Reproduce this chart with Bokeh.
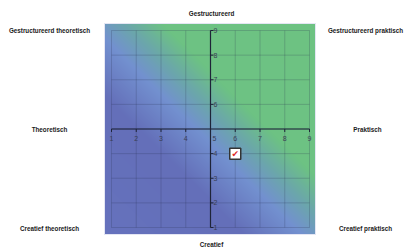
import numpy as np
from bokeh.plotting import figure
from bokeh.models import Range1d, Label
from bokeh.embed import file_html
from bokeh.resources import INLINE
from bokeh.core.properties import value

# ---- data ----
ticks = [1, 2, 3, 4, 5, 6, 7, 8, 9]
x_tick_labels = ["1", "2", "3", "4", "5", "6", "7", "8", "9"]
y_ticks = [1, 2, 3, 4, 6, 7, 8, 9]
y_tick_labels = ["1", "2", "3", "4", "6", "7", "8", "9"]
axis_center = 5
point_x = [6]
point_y = [4]
top_label = "Gestructureerd"
bottom_label = "Creatief"
left_label = "Theoretisch"
right_label = "Praktisch"
corner_labels = ["Gestructureerd theoretisch", "Gestructureerd praktisch",
                 "Creatief theoretisch", "Creatief praktisch"]

# gradient stops along x+y
grad_s = [0.0, 7.0, 9.4, 10.9, 12.3, 19.0]
grad_rgb = [(0x66, 0x73, 0xbe), (0x64, 0x6f, 0xb9), (0x73, 0x91, 0xd0),
            (0x6b, 0xa8, 0xa9), (0x6d, 0xc2, 0x84), (0x6e, 0xc3, 0x82)]

W, H = 404, 250
x0r = 1 - 111 / 24.75
x1r = x0r + W / 24.75
y0r = 1 - (H - 227) / 24.625
y1r = y0r + H / 24.625

p = figure(width=W, height=H, output_backend="svg", toolbar_location=None,
           title=None, x_range=Range1d(x0r, x1r), y_range=Range1d(y0r, y1r),
           min_border=0, x_axis_location=None, y_axis_location=None)
p.xgrid.visible = False
p.ygrid.visible = False
p.outline_line_color = None
p.background_fill_color = "white"
p.border_fill_color = "white"

# background gradient image
gx0, gx1 = 1 - 7 / 24.75, 9 + 6 / 24.75
gy0, gy1 = 1 - 7 / 24.625, 9 + 7 / 24.625
nx, ny = 212, 212
xs = np.linspace(gx0, gx1, nx)
ys = np.linspace(gy0, gy1, ny)
X, Y = np.meshgrid(xs, ys)
S = X + Y
img = np.zeros((ny, nx), dtype=np.uint32)
view = img.view(dtype=np.uint8).reshape((ny, nx, 4))
for c in range(3):
    view[:, :, c] = np.interp(S, grad_s, [col[c] for col in grad_rgb]).astype(np.uint8)
view[:, :, 3] = 255
p.image_rgba(image=[img], x=gx0, y=gy0, dw=gx1 - gx0, dh=gy1 - gy0)
p.quad(left=[gx0], right=[gx1], bottom=[gy0], top=[gy1], fill_color=None,
       line_color="#e4e6f4", line_width=1)

# grid
lo, hi = ticks[0], ticks[-1]
p.segment(x0=ticks, y0=[lo] * len(ticks), x1=ticks, y1=[hi] * len(ticks),
          line_color="#2a3050", line_alpha=0.22, line_width=1)
p.segment(x0=[lo] * len(ticks), y0=ticks, x1=[hi] * len(ticks), y1=ticks,
          line_color="#2a3050", line_alpha=0.22, line_width=1)

# central axes
p.segment(x0=[axis_center], y0=[lo], x1=[axis_center], y1=[hi], line_color="#1e2438", line_width=1.2)
p.segment(x0=[lo], y0=[axis_center], x1=[hi], y1=[axis_center], line_color="#1e2438", line_width=1.2)
p.segment(x0=ticks, y0=[axis_center] * len(ticks), x1=ticks, y1=[axis_center - 0.12] * len(ticks),
          line_color="#1e2438", line_width=1)
p.segment(x0=[axis_center] * len(y_ticks), y0=y_ticks, x1=[axis_center + 0.12] * len(y_ticks), y1=y_ticks,
          line_color="#1e2438", line_width=1)

tick_font = value("Liberation Sans")
x_offsets = [4 if t == axis_center else 0 for t in ticks]
p.text(x=ticks, y=[axis_center] * len(ticks), text=x_tick_labels, x_offset=x_offsets, y_offset=9,
       text_align="center", text_baseline="middle", text_font=tick_font,
       text_font_size="7px", text_color="#3a3f55")
p.text(x=[axis_center] * len(y_ticks), y=y_ticks, text=y_tick_labels, x_offset=3, y_offset=0,
       text_align="left", text_baseline="middle", text_font=tick_font,
       text_font_size="7px", text_color="#3a3f55")

# the point
p.scatter(x=point_x, y=point_y, marker="square", size=11, fill_color="white",
          line_color="#333333", line_width=1.5)
p.text(x=point_x, y=point_y, text=["\u2714"], text_align="center", text_baseline="middle",
       text_font=value("DejaVu Sans"), text_font_size="9px", text_color="#e02828")

# outer labels (screen coords: y from bottom)
label_pos = [
    (top_label, 211, 250 - 13),
    (corner_labels[0], 49, 250 - 30),
    (corner_labels[1], 365, 250 - 30),
    (left_label, 49, 250 - 129),
    (right_label, 367, 250 - 129),
    (corner_labels[2], 49, 250 - 228),
    (corner_labels[3], 365, 250 - 228),
    (bottom_label, 211, 250 - 244),
]
for txt, lx, ly in label_pos:
    p.add_layout(Label(x=lx, y=ly, x_units="screen", y_units="screen", text=txt,
                       text_align="center", text_baseline="middle",
                       text_font="Liberation Sans", text_font_style="bold",
                       text_font_size="6.3px", text_color="#1a1a1a"))

open("out.html", "w").write(file_html(p, INLINE))
